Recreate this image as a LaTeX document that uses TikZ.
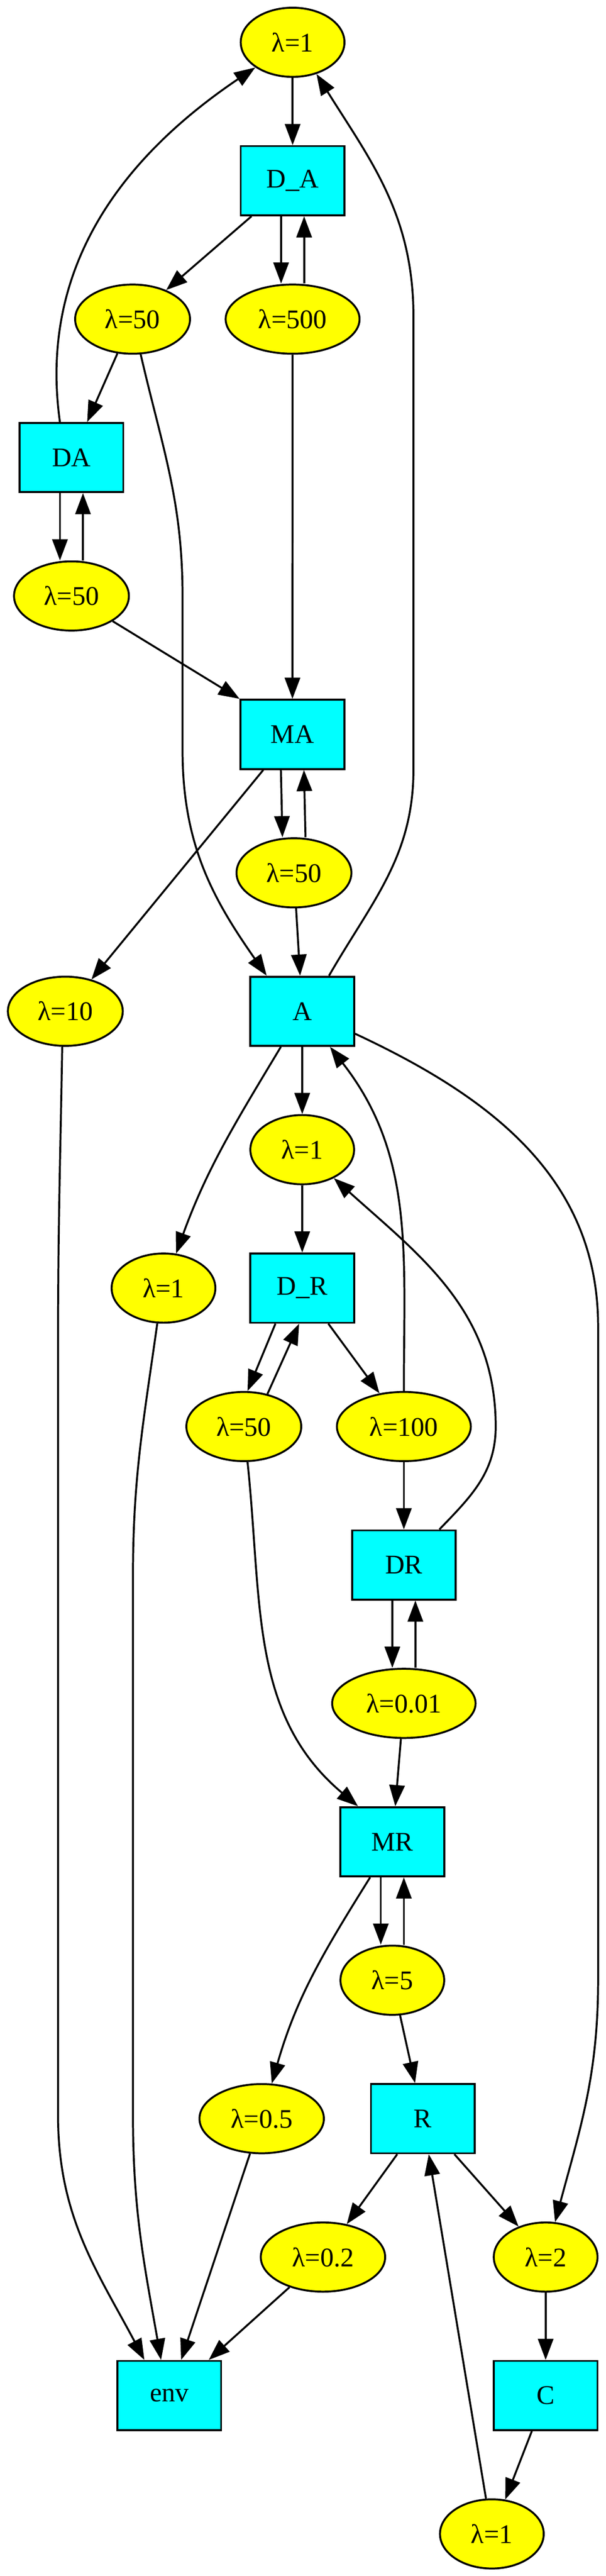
\documentclass[tikz,border=0pt]{standalone}
\usepackage{fontspec}
\setmainfont{Liberation Serif}
\usetikzlibrary{positioning,arrows.meta,shapes.geometric}
\definecolor{rateyellow}{RGB}{255,255,0}
\definecolor{boxcyan}{RGB}{0,255,255}
\tikzstyle{lam}=[draw, ellipse, fill=rateyellow, minimum width=54pt, minimum height=36pt, inner xsep=6.8pt, inner ysep=2pt, line width=1pt, font=\fontsize{14pt}{17pt}\selectfont]
\tikzstyle{blk}=[draw, rectangle, fill=boxcyan, minimum width=54pt, minimum height=36pt, inner sep=0pt, line width=1pt, font=\fontsize{14pt}{17pt}\selectfont]

\begin{document}
\begin{tikzpicture}[x=1pt, y=1pt, line width=1pt, -{Triangle[length=11pt,width=8pt]}]

	\useasboundingbox (0,0) rectangle (315.36,-1339.9);

	\node[lam] (L1) at (152.3,-22) {λ=1};
	\node[blk] (DuA) [below = 35pt of L1] {D\_A};
	\node[lam] (L50a) at (69,-166) {λ=50};
	\node[lam] (L500) [below = 35pt of DuA] {λ=500};
	\node[blk] (DA) at (37.2,-238) {DA};
	\node[lam] (L50b) [below = 35pt of DA] {λ=50};
	\node[blk] (MA) at (152.2,-382) {MA};
	\node[lam] (L50c) at (153,-454) {λ=50};
	\node[lam] (L10) at (34,-526) {λ=10};
	\node[blk] (A) at (157.3,-526) {A};
	\node[lam] (L1b) [below = 35pt of A] {λ=1};
	\node[lam] (L1c) at (85.1,-670) {λ=1};
	\node[blk] (DuR) [below = 35pt of L1b] {D\_R};
	\node[lam] (L50d) at (126.9,-742) {λ=50};
	\node[lam] (L100) at (210.2,-742) {λ=100};
	\node[blk] (DR) [below = 35pt of L100] {DR};
	\node[lam] (L001) [below = 35pt of DR] {λ=0.01};
	\node[blk] (MR) at (204.2,-958) {MR};
	\node[lam] (L5) [below = 35pt of MR] {λ=5};
	\node[lam] (L05) at (136.2,-1102) {λ=0.5};
	\node[blk] (R) at (220.1,-1102) {R};
	\node[lam] (L02) at (168.1,-1174) {λ=0.2};
	\node[lam] (L2) at (284,-1174) {λ=2};
	\node[blk] (env) at (88.1,-1246) {env};
	\node[blk] (C) [below = 35pt of L2] {C};
	\node[lam] (L1d) at (256,-1318) {λ=1};

	% upper part
	\draw (L1) -- (DuA);
	\draw (DuA) -- (L50a);
	\draw ([xshift=-6pt]DuA.south) -- ([xshift=-6pt]L500.north);
	\draw ([xshift=6pt]L500.north) -- ([xshift=6pt]DuA.south);
	\draw (L50a) -- (DA);
	\draw (L50a.-77) to[out=-77, in=90] (95,-310) -- (95,-390)
		to[out=-90, in=125] (A.135);
	\draw (DA.108) to[out=98, in=214] (L1.214);
	\draw ([xshift=-6pt]DA.south) -- ([xshift=-6pt]L50b.north);
	\draw ([xshift=6pt]L50b.north) -- ([xshift=6pt]DA.south);
	\draw (L50b) -- (MA.north west);
	\draw (L500) -- (MA);
	\draw ([xshift=-6pt]MA.south) -- ([xshift=-6pt]L50c.north);
	\draw ([xshift=6pt]L50c.north) -- ([xshift=6pt]MA.south);
	\draw (MA) -- (L10);
	\draw (L50c) -- (A);
	\draw (A.53) to[out=60, in=-90] (215.2,-400) -- (215.2,-165)
		to[out=90, in=-58] (L1.-53);

	% middle part
	\draw (A) -- (L1b);
	\draw (A) to[out=-121, in=70] (L1c);
	\draw (A.-23) to[out=-25, in=90] (311.3,-690) -- (311.3,-1030)
		to[out=-90, in=75] (L2);
	\draw (L1b) -- (DuR);
	\draw (DR.45) to[out=46, in=-90] (258,-742) to[out=90, in=-42] (L1b);
	\draw (L100) to[out=90, in=-52] (A);
	\draw (DuR.-127) -- (L50d.84);
	\draw (L50d.54) -- (DuR.-95);
	\draw (DuR) -- (L100);
	\draw (L100) -- (DR);
	\draw ([xshift=-6pt]DR.south) -- ([xshift=-6pt]L001.north);
	\draw ([xshift=6pt]L001.north) -- ([xshift=6pt]DR.south);
	\draw (L001) -- (MR);
	\draw (L50d.-84) to[out=-84, in=140] (MR.134);

	% lower part
	\draw ([xshift=-6pt]MR.south) -- ([xshift=-6pt]L5.north);
	\draw ([xshift=6pt]L5.north) -- ([xshift=6pt]MR.south);
	\draw (MR) to[out=-122, in=74] (L05);
	\draw (L5) -- (R);
	\draw (L05) -- (env);
	\draw (L10.-95) to[out=-91, in=90] (30.2,-700) -- (30.2,-1100)
		to[out=-90, in=118] (env.125);
	\draw (L1c.-100) to[out=-98, in=90] (69.2,-820) -- (69.2,-1100)
		to[out=-90, in=100] (env.103);
	\draw (R) -- (L02);
	\draw (R) -- (L2);
	\draw (L02) -- (env);
	\draw (L2) -- (C);
	\draw (C) -- (L1d);
	\draw (L1d) -- (R);

\end{tikzpicture}
\end{document}
